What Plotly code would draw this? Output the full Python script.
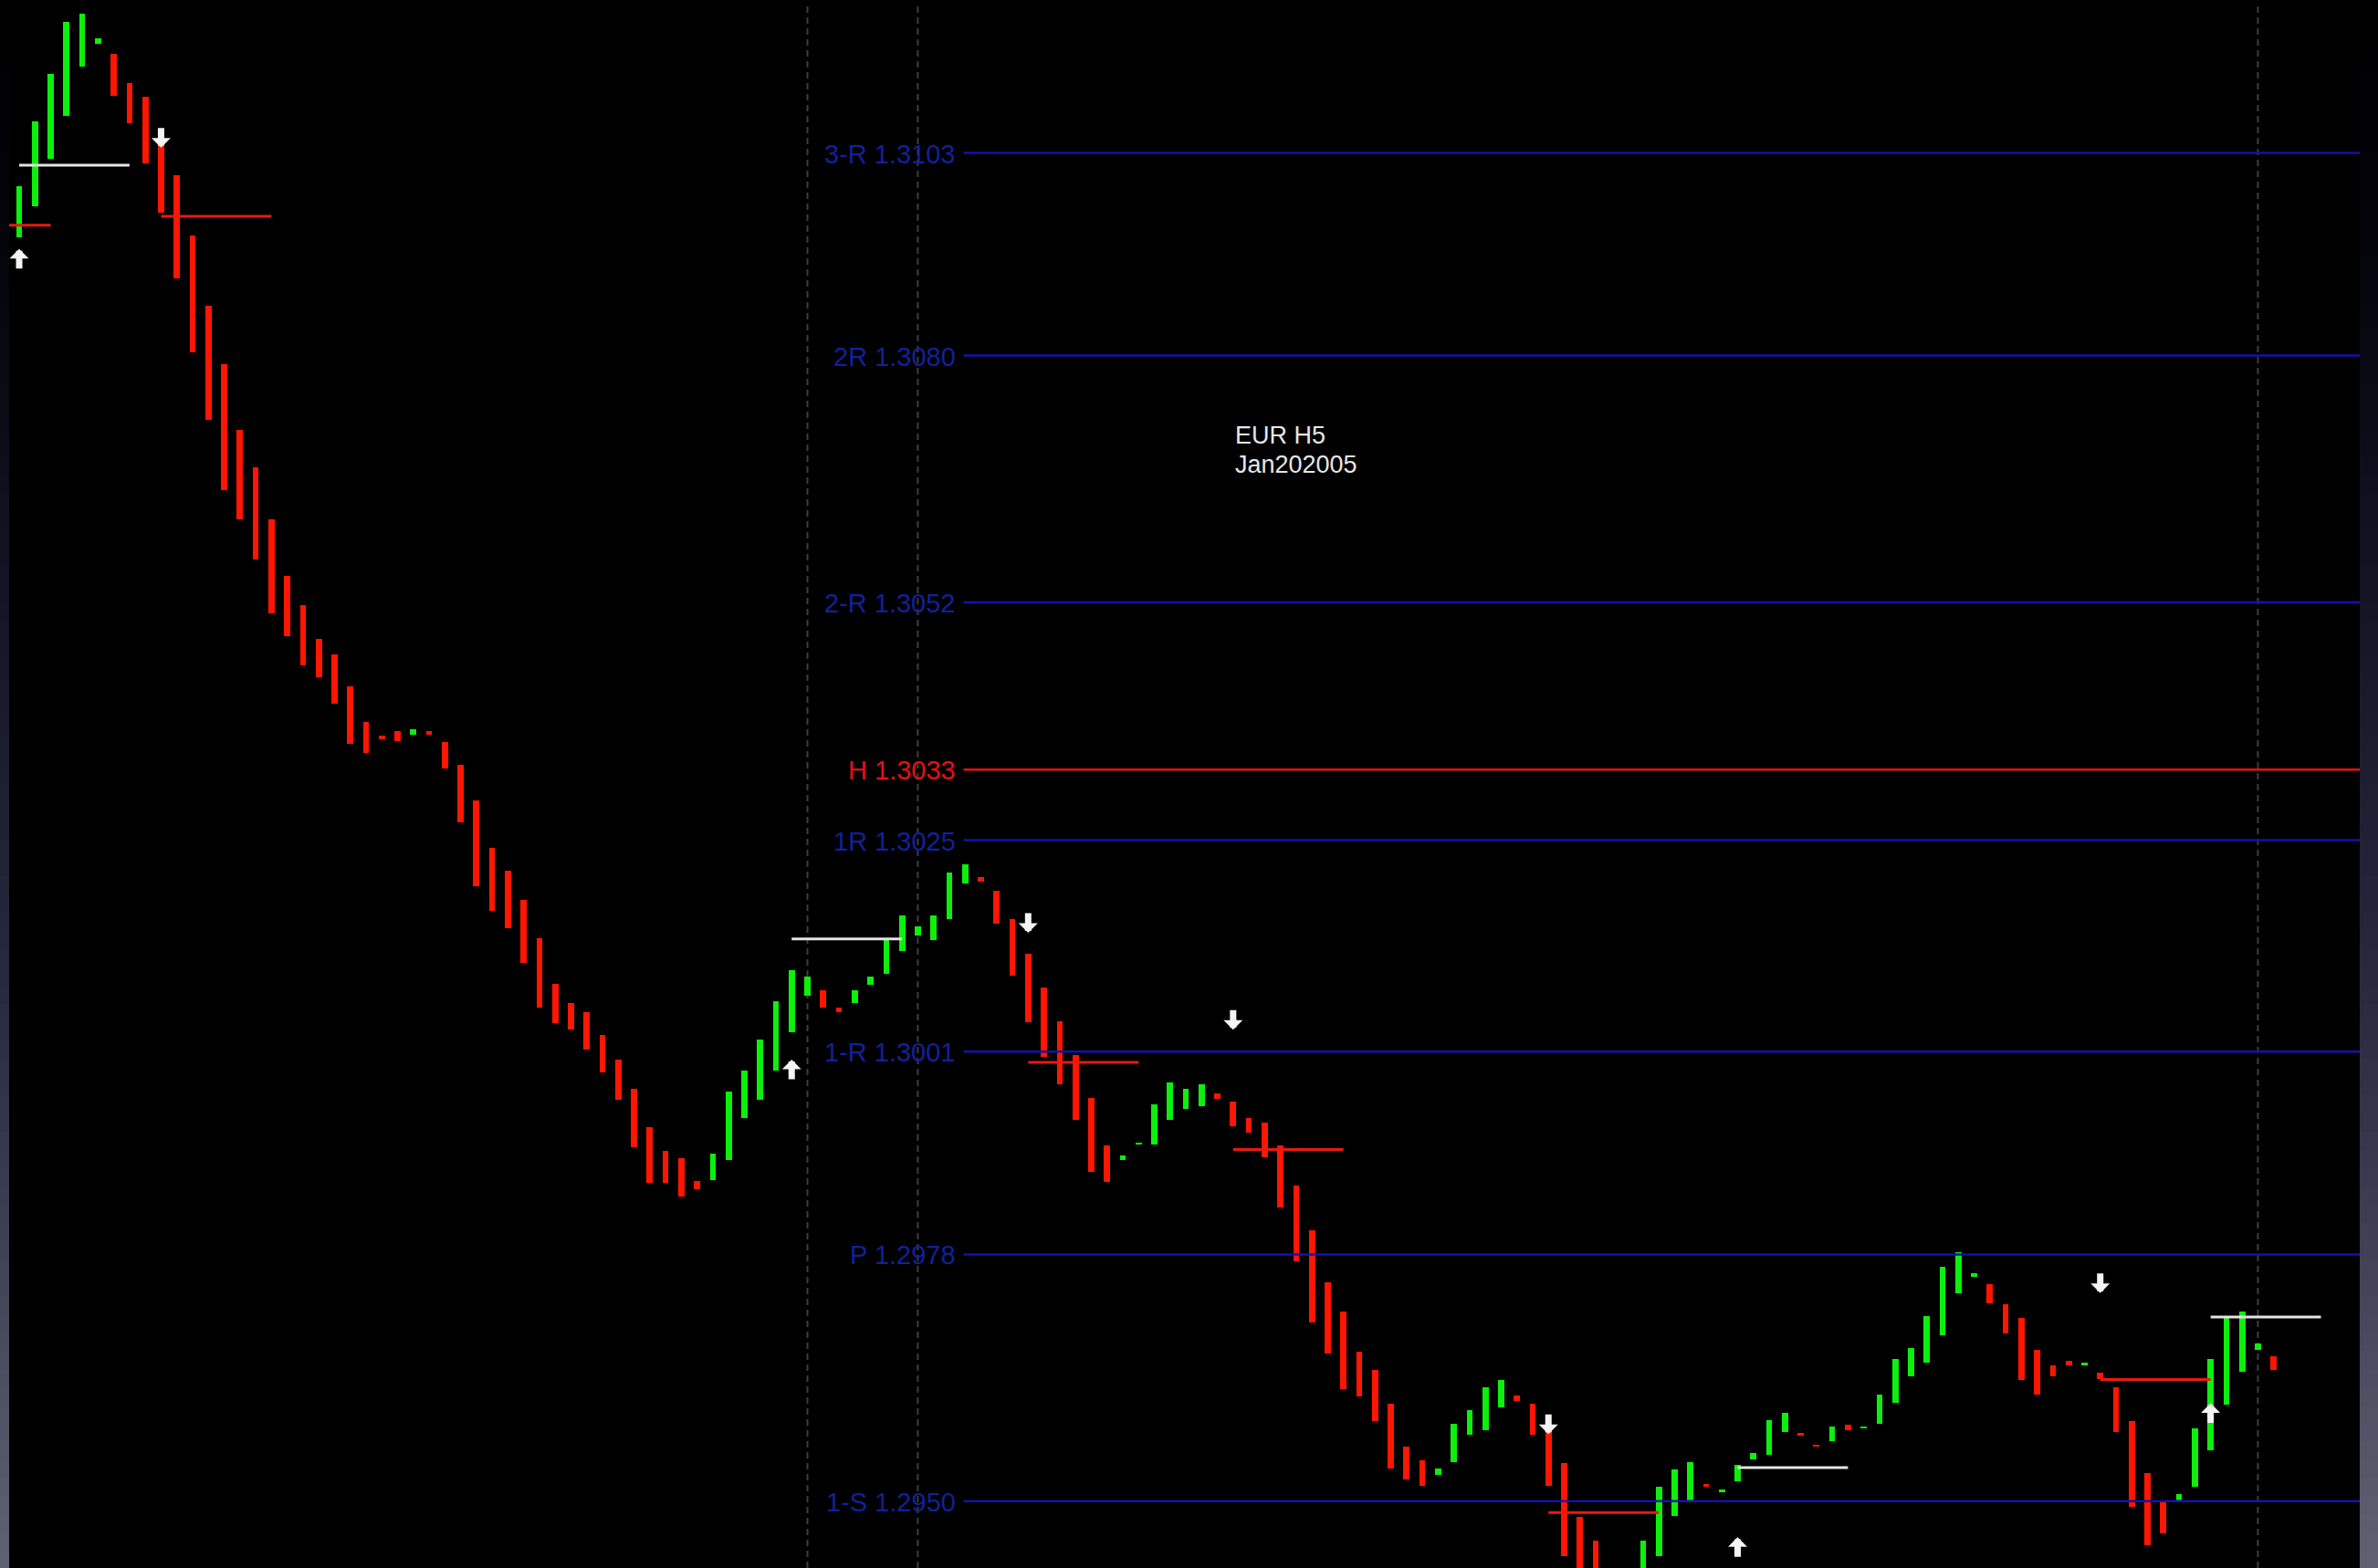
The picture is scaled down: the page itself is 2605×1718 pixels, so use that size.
import plotly.graph_objects as go

# ---------------- data ----------------
bar_high = [
    1.30992, 1.31066, 1.31120, 1.31179, 1.31188, 1.31160, 1.31142, 1.31109, 1.31094, 1.31039,
    1.31005, 1.30936, 1.30857, 1.30790, 1.30716, 1.30673, 1.30614, 1.30550, 1.30517, 1.30478,
    1.30461, 1.30425, 1.30384, 1.30369, 1.30374, 1.30376, 1.30374, 1.30361, 1.30336, 1.30295,
    1.30241, 1.30215, 1.30182, 1.30139, 1.30087, 1.30065, 1.30055, 1.30029, 1.30001, 1.29968,
    1.29924, 1.29897, 1.29889, 1.29863, 1.29894, 1.29965, 1.29989, 1.30024, 1.30067, 1.30103,
    1.30095, 1.30080, 1.30060, 1.30080, 1.30095, 1.30138, 1.30165, 1.30152, 1.30165, 1.30213,
    1.30223, 1.30208, 1.30193, 1.30160, 1.30121, 1.30083, 1.30045, 1.30006, 1.29958, 1.29904,
    1.29892, 1.29907, 1.29950, 1.29975, 1.29968, 1.29973, 1.29963, 1.29953, 1.29935, 1.29930,
    1.29904, 1.29858, 1.29807, 1.29748, 1.29715, 1.29670, 1.29649, 1.29611, 1.29562, 1.29546,
    1.29537, 1.29588, 1.29603, 1.29629, 1.29637, 1.29620, 1.29611, 1.29578, 1.29543, 1.29482,
    1.29455, 1.29415, 1.29410, 1.29455, 1.29516, 1.29536, 1.29544, 1.29519, 1.29513, 1.29541,
    1.29555, 1.29592, 1.29600, 1.29577, 1.29564, 1.29585, 1.29587, 1.29585, 1.29621, 1.29661,
    1.29674, 1.29710, 1.29766, 1.29782, 1.29759, 1.29746, 1.29723, 1.29708, 1.29672, 1.29654,
    1.29659, 1.29657, 1.29646, 1.29629, 1.29591, 1.29532, 1.29501, 1.29508, 1.29583, 1.29661,
    1.29709, 1.29715, 1.29679, 1.29664,
]
bar_low = [
    1.30934, 1.30969, 1.31023, 1.31072, 1.31128, 1.31154, 1.31095, 1.31064, 1.31018, 1.30962,
    1.30888, 1.30804, 1.30727, 1.30647, 1.30614, 1.30569, 1.30508, 1.30482, 1.30448, 1.30435,
    1.30405, 1.30359, 1.30349, 1.30365, 1.30362, 1.30370, 1.30370, 1.30331, 1.30270, 1.30198,
    1.30170, 1.30150, 1.30111, 1.30060, 1.30042, 1.30035, 1.30012, 1.29987, 1.29955, 1.29902,
    1.29861, 1.29861, 1.29846, 1.29854, 1.29864, 1.29887, 1.29935, 1.29955, 1.29989, 1.30032,
    1.30074, 1.30060, 1.30055, 1.30065, 1.30086, 1.30098, 1.30124, 1.30142, 1.30137, 1.30160,
    1.30201, 1.30203, 1.30155, 1.30096, 1.30043, 1.30004, 1.29973, 1.29933, 1.29874, 1.29862,
    1.29887, 1.29905, 1.29905, 1.29933, 1.29945, 1.29948, 1.29956, 1.29925, 1.29918, 1.29890,
    1.29833, 1.29772, 1.29703, 1.29668, 1.29627, 1.29619, 1.29591, 1.29537, 1.29525, 1.29517,
    1.29530, 1.29544, 1.29575, 1.29581, 1.29606, 1.29614, 1.29575, 1.29517, 1.29438, 1.29400,
    1.29380, 1.29350, 1.29360, 1.29385, 1.29438, 1.29483, 1.29501, 1.29517, 1.29511, 1.29522,
    1.29547, 1.29553, 1.29578, 1.29575, 1.29562, 1.29568, 1.29581, 1.29583, 1.29588, 1.29612,
    1.29642, 1.29657, 1.29688, 1.29736, 1.29755, 1.29724, 1.29690, 1.29637, 1.29621, 1.29642,
    1.29654, 1.29654, 1.29638, 1.29578, 1.29494, 1.29450, 1.29463, 1.29499, 1.29516, 1.29558,
    1.29609, 1.29647, 1.29672, 1.29649,
]
bar_dir = list(
    "GGGGGG" "RRRRRRRRRRRRRRRRRRR" "G" "RRRRRRRRRRRRRRRRRR" "GGGGGGG" "RR" "GGGGGGGG"
    "RRRRRRRRR" "GGGGGG" "RRRRRRRRRRRRRR" "GGGGG" "RRRRRRR" "GGGGG" "R" "GGGGG" "RR"
    "G" "R" "GGGGGGGG" "RRRRRR" "G" "RRRRR" "GGGGGG" "R"
)
bar_index = list(range(len(bar_high)))
assert len(bar_high) == len(bar_low) == len(bar_dir) == 144

pivot_names = ["3-R", "2R", "2-R", "H", "1R", "1-R", "P", "1-S"]
pivot_values = [1.3103, 1.3080, 1.3052, 1.3033, 1.3025, 1.3001, 1.2978, 1.2950]
pivot_kind = ["blue", "blue", "blue", "red", "blue", "blue", "blue", "blue"]

signal_start = [-5, 0, 9, 49, 64, 77, 97, 109, 132, 139]
signal_len = 7
signal_price = [1.30948, 1.31016, 1.30958, 1.30138, 1.29998, 1.29899, 1.29487, 1.29538, 1.29638, 1.29709]
signal_kind = ["red", "white", "red", "white", "red", "red", "red", "white", "red", "white"]

arrow_bar = [0, 9, 49, 64, 77, 97, 109, 132, 139]
arrow_price = [1.30921, 1.31036, 1.30001, 1.30145, 1.30035, 1.29576, 1.29459, 1.29736, 1.29611]
arrow_dir = ["up", "down", "up", "down", "down", "down", "up", "down", "up"]

session_lines = [50, 57, 142]

title_lines = ["EUR H5", "Jan202005"]

# ---------------- styling ----------------
W, H = 2605, 1718
ML, MR = 10, 20
X_RANGE = [-0.637, 148.46]
Y_RANGE = [1.294241, 1.312035]
GREEN = "#0cf00c"
RED = "#ff1600"
LINE_BLUE = "#1212b0"
TEXT_BLUE = "#10229a"
PIVOT_RED = "#e81010"
FONT = "Liberation Sans, Arial, sans-serif"

fig = go.Figure()

# pivot lines
pivot_x0 = 59.9
for v, kind in zip(pivot_values, pivot_kind):
    fig.add_trace(go.Scatter(
        x=[pivot_x0, X_RANGE[1]], y=[v, v], mode="lines",
        line=dict(color=PIVOT_RED if kind == "red" else LINE_BLUE, width=2.5),
        hoverinfo="skip", showlegend=False,
    ))

# price bars (low-high ranges)
fig.add_trace(go.Bar(
    x=bar_index,
    base=bar_low,
    y=[h - l for h, l in zip(bar_high, bar_low)],
    width=0.39,
    marker=dict(color=[GREEN if d == "G" else RED for d in bar_dir], line=dict(width=0)),
    hoverinfo="skip", showlegend=False,
))

# short signal lines
for s, p, kind in zip(signal_start, signal_price, signal_kind):
    fig.add_trace(go.Scatter(
        x=[s, s + signal_len], y=[p, p], mode="lines",
        line=dict(color="#e4e4e4" if kind == "white" else "#e81a10", width=3),
        hoverinfo="skip", showlegend=False,
    ))

annotations = []
# arrows
for b, p, d in zip(arrow_bar, arrow_price, arrow_dir):
    annotations.append(dict(
        x=b, y=p, xref="x", yref="y", text="", showarrow=True,
        ax=0, ay=23 if d == "up" else -23,
        arrowhead=1, arrowsize=0.5, arrowwidth=7, arrowcolor="#f4f4f4", standoff=0,
    ))
# pivot labels
for n, v, kind in zip(pivot_names, pivot_values, pivot_kind):
    annotations.append(dict(
        x=59.5, y=v, xref="x", yref="y", text=f"{n} {v:.4f}", showarrow=False,
        xanchor="right", yanchor="middle", yshift=-1,
        font=dict(family=FONT, size=29, color=PIVOT_RED if kind == "red" else TEXT_BLUE),
    ))
# title text
for i, t in enumerate(title_lines):
    annotations.append(dict(
        x=0.5208, y=0.7225 - i * 0.0185, xref="paper", yref="paper", text=t, showarrow=False,
        xanchor="left", yanchor="middle",
        font=dict(family=FONT, size=27, color="#e6e6e6"),
    ))

shapes = []
# session separators
for s in session_lines:
    shapes.append(dict(
        type="line", xref="x", yref="paper", x0=s, x1=s, y0=0, y1=0.996,
        line=dict(color="#3e3e3e", width=2, dash="7px,5px"), layer="below",
    ))

# background gradient strips at the window edges
stops = [(0, (0, 0, 0)), (300, (5, 5, 12)), (600, (18, 18, 34)), (900, (32, 32, 52)),
         (1100, (42, 42, 64)), (1300, (58, 58, 80)), (1500, (76, 77, 96)), (1718, (96, 97, 114))]


def grad(ypx):
    for (y0, c0), (y1, c1) in zip(stops[:-1], stops[1:]):
        if y0 <= ypx <= y1:
            t = (ypx - y0) / (y1 - y0)
            return "rgb(%d,%d,%d)" % tuple(round(a + (b - a) * t) for a, b in zip(c0, c1))
    return "rgb(96,97,114)"


pw = W - ML - MR
step = 20
for y in range(0, H, step):
    col = grad(y + step / 2)
    ytop = 1 - y / H
    ybot = 1 - min(y + step, H) / H
    for xa, xb in ((-ML / pw, 0), (1, 1 + MR / pw)):
        shapes.append(dict(type="rect", xref="paper", yref="paper", x0=xa, x1=xb,
                           y0=ybot, y1=ytop, fillcolor=col, line=dict(width=0), layer="below"))

fig.update_layout(
    width=W, height=H, autosize=False,
    margin=dict(l=ML, r=MR, t=0, b=0, pad=0),
    paper_bgcolor="#000000", plot_bgcolor="#000000",
    xaxis=dict(range=X_RANGE, visible=False, showgrid=False, zeroline=False, fixedrange=True),
    yaxis=dict(range=Y_RANGE, visible=False, showgrid=False, zeroline=False, fixedrange=True),
    barmode="overlay", bargap=0,
    annotations=annotations, shapes=shapes,
    showlegend=False, hovermode=False,
)

fig.write_html(
    "out.html",
    config={"displayModeBar": False},
    post_script=(
        "document.body.style.margin='0';document.body.style.padding='0';"
        "document.body.style.background='#000';document.body.style.overflow='hidden';"
        "document.documentElement.style.overflow='hidden';"
    ),
)
